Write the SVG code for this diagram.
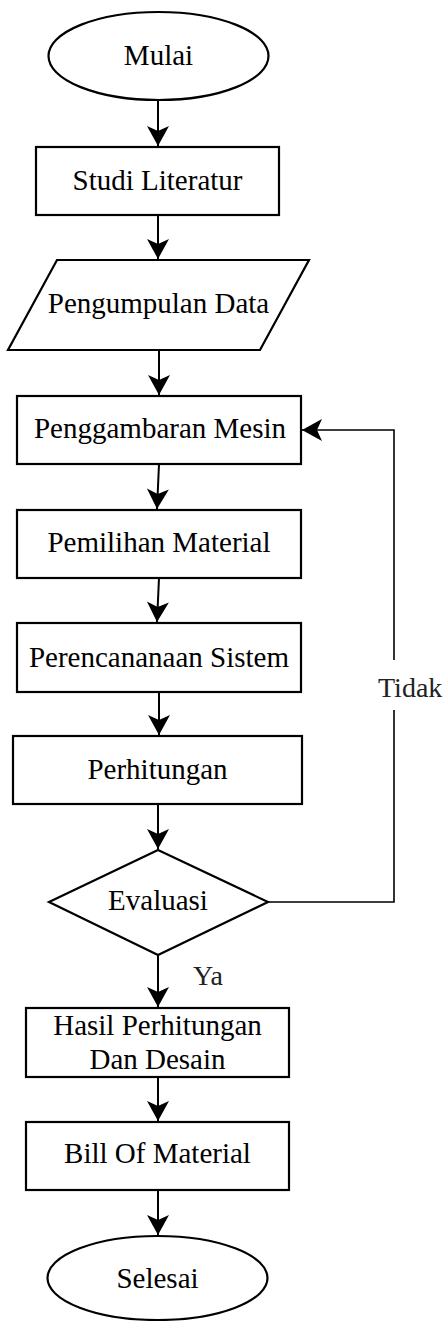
<svg xmlns="http://www.w3.org/2000/svg" width="446" height="1321" viewBox="0 0 446 1321">
<defs>
<style>
.n{fill:#fff;stroke:#000;stroke-width:2.2}
.t{font-family:"Liberation Serif","Times New Roman",serif;font-size:29px;fill:#000;text-anchor:middle}
.lbl{font-family:"Liberation Serif","Times New Roman",serif;font-size:28px;fill:#222}
.c{fill:none;stroke:#000;stroke-width:2}
.c2{fill:none;stroke:#000;stroke-width:1.6}
</style>
<marker id="ah" markerUnits="userSpaceOnUse" markerWidth="24" markerHeight="24" viewBox="-21 -12 24 24" refX="0" refY="0" orient="auto">
<path d="M0,0 L-20,-11 L-15,0 L-20,11 Z" fill="#000"/>
</marker>
</defs>
<rect width="446" height="1321" fill="#fff"/>
<g id="connectors">
<line class="c" x1="158" y1="100" x2="158" y2="146" marker-end="url(#ah)"/>
<line class="c" x1="158" y1="215" x2="158" y2="259" marker-end="url(#ah)"/>
<line class="c" x1="159" y1="350" x2="159" y2="395" marker-end="url(#ah)"/>
<line class="c" x1="159" y1="464" x2="157" y2="509" marker-end="url(#ah)"/>
<line class="c" x1="159" y1="578" x2="157" y2="622" marker-end="url(#ah)"/>
<line class="c" x1="159" y1="692" x2="159" y2="735" marker-end="url(#ah)"/>
<line class="c" x1="158" y1="804" x2="158" y2="849" marker-end="url(#ah)"/>
<line class="c" x1="158" y1="955" x2="158" y2="1007" marker-end="url(#ah)"/>
<line class="c" x1="158" y1="1077" x2="158" y2="1121" marker-end="url(#ah)"/>
<line class="c" x1="158" y1="1190" x2="158" y2="1235" marker-end="url(#ah)"/>
<polyline class="c2" points="268,902 394,902 394,710"/>
<polyline class="c2" points="394,660 394,430 302,430" marker-end="url(#ah)"/>
<text class="lbl" x="378" y="697">Tidak</text>
<text class="lbl" x="193" y="985">Ya</text>
</g>
<g id="mulai">
<ellipse class="n" cx="158.5" cy="56" rx="110" ry="44"/>
<text class="t" x="158.5" y="65">Mulai</text>
</g>
<g id="studi">
<rect class="n" x="36" y="147" width="243" height="68"/>
<text class="t" x="157.5" y="190">Studi Literatur</text>
</g>
<g id="data">
<polygon class="n" points="57,260 309,260 260,350 8,350"/>
<text class="t" x="158.5" y="313">Pengumpulan Data</text>
</g>
<g id="penggambaran">
<rect class="n" x="17" y="396" width="284" height="68"/>
<text class="t" x="160" y="438">Penggambaran Mesin</text>
</g>
<g id="pemilihan">
<rect class="n" x="17" y="510" width="284" height="68"/>
<text class="t" x="159" y="552">Pemilihan Material</text>
</g>
<g id="perencanaan">
<rect class="n" x="17" y="623" width="284" height="69"/>
<text class="t" x="159" y="667">Perencananaan Sistem</text>
</g>
<g id="perhitungan">
<rect class="n" x="13" y="736" width="289" height="68"/>
<text class="t" x="157.5" y="779">Perhitungan</text>
</g>
<g id="evaluasi">
<polygon class="n" points="158,850 268,902 158,955 49,902"/>
<text class="t" x="158" y="910">Evaluasi</text>
</g>
<g id="hasil">
<rect class="n" x="26" y="1008" width="263" height="69"/>
<text class="t" x="157.5" y="1035">Hasil Perhitungan</text>
<text class="t" x="157.5" y="1069">Dan Desain</text>
</g>
<g id="bom">
<rect class="n" x="26" y="1122" width="263" height="68"/>
<text class="t" x="157.5" y="1163">Bill Of Material</text>
</g>
<g id="selesai">
<ellipse class="n" cx="157.5" cy="1278" rx="110" ry="42"/>
<text class="t" x="157.5" y="1288">Selesai</text>
</g>
</svg>
